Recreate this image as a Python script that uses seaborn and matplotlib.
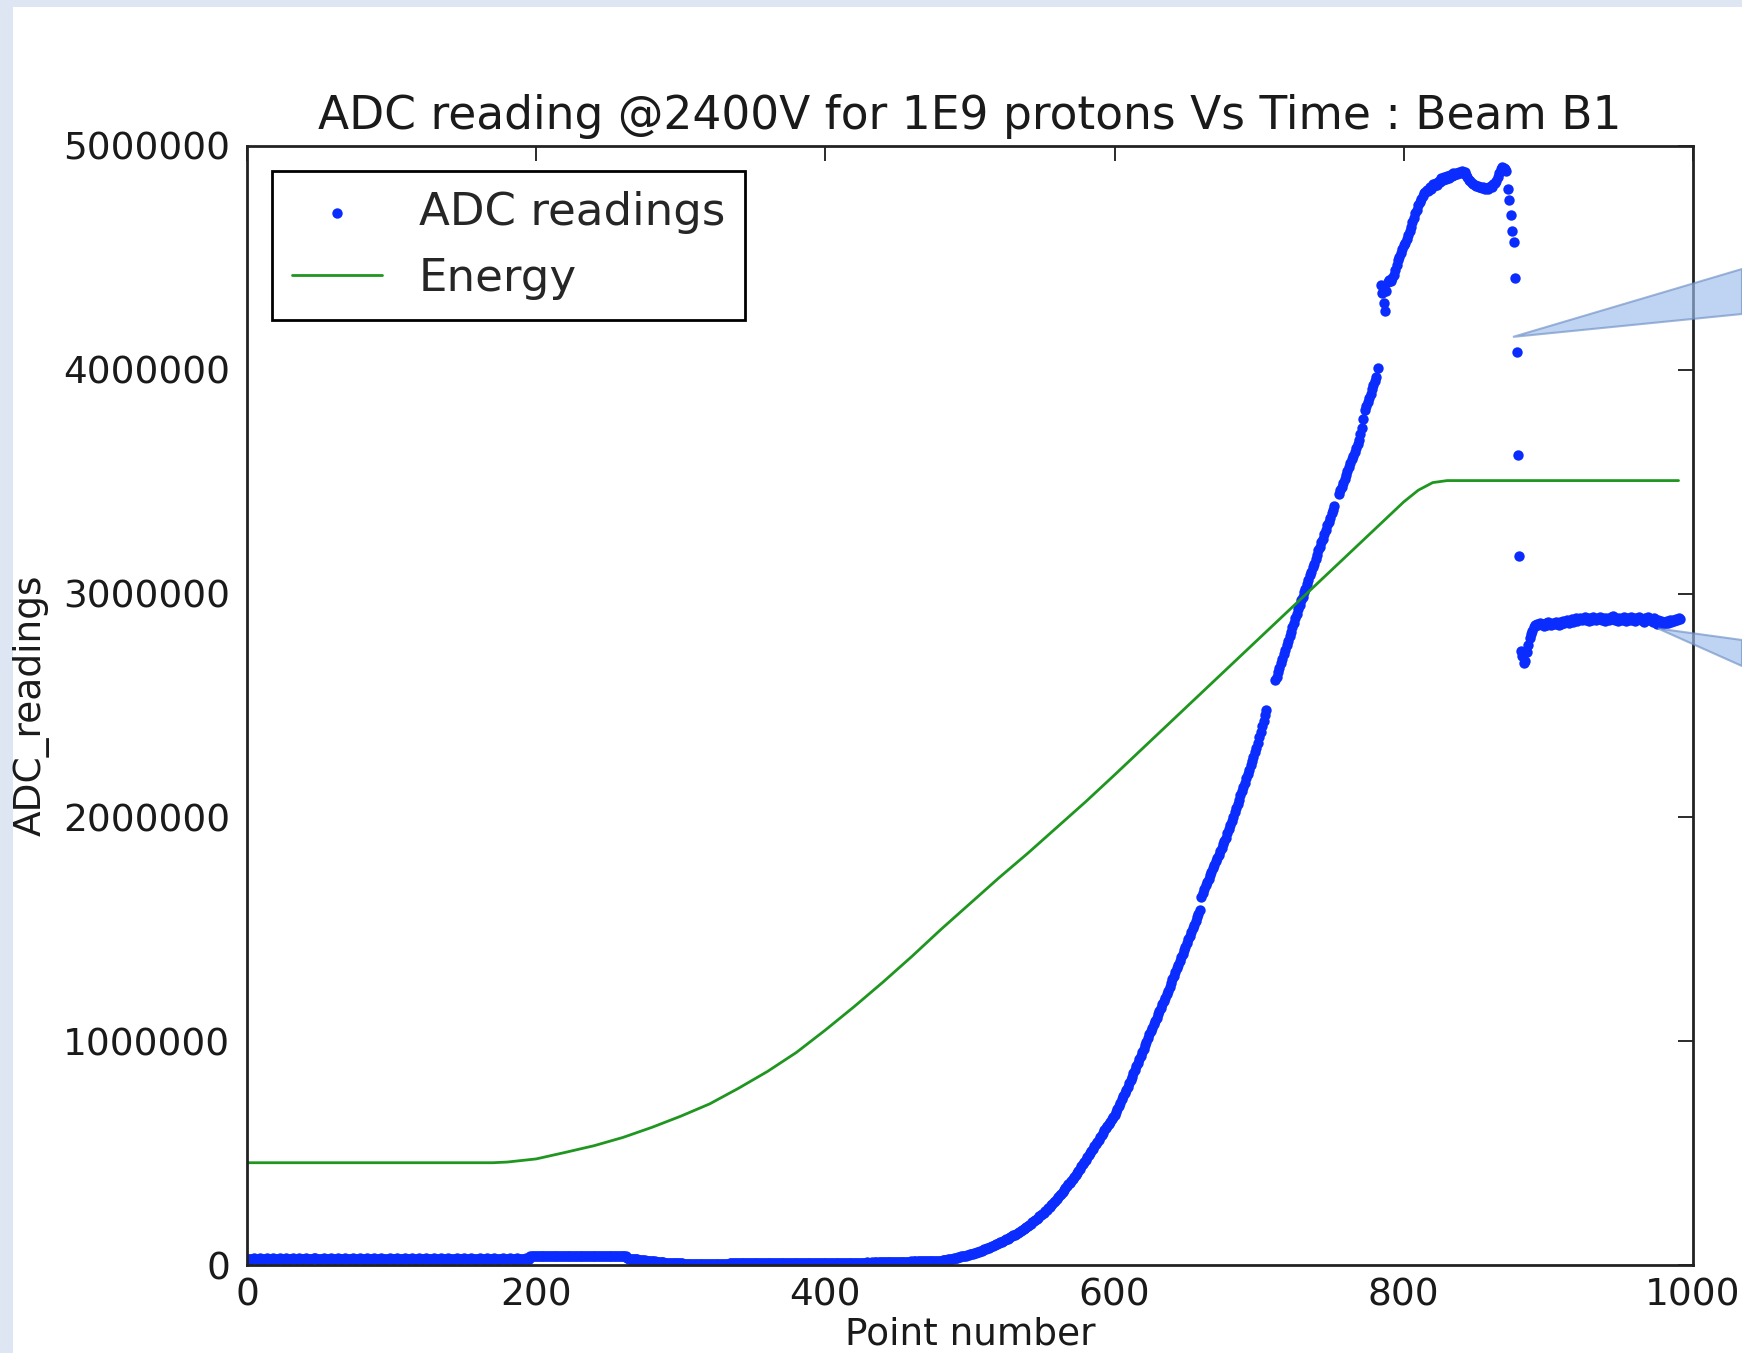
import numpy as np
import pandas as pd
import matplotlib
matplotlib.use("Agg")
import matplotlib.pyplot as plt
from matplotlib.patches import Polygon, Rectangle
from matplotlib.ticker import ScalarFormatter
import seaborn as sns

nan = np.nan

# ADC readings (thousands of counts), one value per point number.
# Each block starts at the point number in ADC_BLOCKS; nan = no reading.
ADC_FLAT_A = [
    28, 27, 29, 26, 28, 31, 27, 25, 28, 30, 27, 26, 29, 27, 31, 28, 26, 27, 30, 28, 25, 27, 29, 31, 27,
    26, 28, 30, 27, 25, 29, 27, 30, 28, 26, 27, 31, 28, 27, 25, 29, 30, 27, 26, 28, 27, 30, 32, 27, 26,
    28, 27, 25, 30, 28, 27, 26, 29, 31, 27, 28, 26, 27, 30, 28, 25, 27, 29, 30, 27, 26, 28, 27, 31, 28,
    27, 26, 28, 30, 27, 25, 29, 27, 30, 28, 26, 27, 29, 32, 27, 28, 26, 27, 30, 28, 27, 25, 28, 27, 30,
    28, 27, 26, 29, 31, 27, 28, 26, 27, 30, 28, 25, 27, 29, 30, 27, 26, 28, 27, 31, 28, 27, 26, 29, 30,
    27, 25, 28, 27, 30, 28, 26, 27, 29, 32, 27, 28, 26, 27, 30, 28, 27, 25, 29, 27, 30, 28, 26, 27, 28,
    31, 27, 28, 26, 27, 30, 28, 27, 25, 29, 27, 30, 28, 26, 27, 29, 31, 27, 28, 26, 27, 30, 28, 27, 26,
    28, 27, 30, 28, 26, 27, 29, 31, 27, 28, 26, 27, 30, 28, 27, 25, 29, 27, 30, 28, 27,
]
ADC_FLAT_B = [
    40, 41, 39, 40, 42, 40, 41, 39, 40, 41, 42, 40, 39, 41, 40, 42, 41, 40, 39, 40, 41, 42, 40, 41, 39,
    40, 41, 40, 42, 41, 39, 40, 41, 40, 42, 40, 41, 39, 40, 41, 42, 40, 41, 40, 39, 41, 40, 42, 41, 40,
    41, 39, 40, 41, 42, 40, 41, 40, 39, 41, 40, 42, 41, 40, 41, 40, 39,
]
ADC_DIP = [
    30, 29, 28, 28, 27, 26, 26, 25, 24, 23, 23, 22, 21, 20, 19, 19, 18, 17, 16, 16, 15, 14, 14, 13, 12,
    12, 11, 11, 10, 10, 9, 9, 8, 8, 8, 7, 7, 7,
    7, 6, 6, 6, 5, 5, 6, 5, 5, 4, 5, 5, 4, 4, 5, 4, 4, 3, 4, 4,
    3, 4, 3, 4, 4, 5, 4, 5, 5, 6, 5, 6, 6, 7, 7, 8, 7, 8, 8, 9,
]
ADC_FLAT_C = [
    9, 10, 9, 10, 10, 9, 10, 11, 10, 10, 9, 10, 11, 10, 10, 11, 10, 9, 10, 11, 10, 10, 11, 10, 9,
    10, 11, 10, 10, 11, 10, 9, 10, 11, 10, 11, 10, 10, 9, 10, 11, 10, 10, 11, 10, 9, 10, 11, 10, 10,
    11, 10, 9, 10, 11, 10, 10, 11, 10, 9, 10, 11, 10, 11, 10, 10, 11, 10, 9, 10, 11, 10, 10, 11, 10,
    10, 11, 10, 11, 10, 10, 11, 11, 10, 11, 11, 10, 11, 12, 11, 11, 12, 11, 12, 12, 11, 12, 12, 13, 12,
    12, 13, 13, 12, 13, 13, 14, 13, 14, 14, 13, 14, 15, 14, 15, 15, 14, 15, 16, 15, 16, 16, 15, 16, 17,
    16, 17, 17, 16, 17, 18, 17, 18, 18, 19, 18, 19, 19, 20,
]
ADC_RISE_A = [
    20, 21, 22, 23, 24, 25, 27, 28, 29, 31, 32, 33, 35, 36, 38, 39, 41, 42, 44, 45,
    47, 49, 51, 53, 55, 57, 59, 61, 64, 67,
    70, 72, 75, 78, 81, 83, 86, 89, 92, 95, 98, 101, 104, 107, 110, 114, 117, 121, 124, 128, 132, 136, 140,
    144, 148, 152, 157, 161, 166, 170, 175, 180, 185, 190, 195, 200, 206, 211, 217, 222, 228, 234, 240, 247, 253, 260,
    267, 274, 281, 288, 296, 303, 311, 319, 327, 335, 343, 351, 360, 368, 377, 386, 395, 404, 413, 422, 431, 441, 450,
    460, 469, 481, 490, 499, 511, 520, 531, 540, 551, 560, 572, 581, 590, 602, 611, 621, 632, 641, 652, 661, 671,
    684, 698, 712, 726, 741, 755, 769, 783, 797, 812, 826, 841, 856,
    872, 888, 903, 919, 935, 951, 967, 983, 998, 1014, 1030,
    1045, 1060, 1075, 1090, 1105, 1120, 1135, 1150, 1165, 1180, 1195, 1210,
    1226, 1243, 1259, 1276, 1292, 1308, 1325, 1341, 1358, 1374, 1390,
    1406, 1423, 1439, 1456, 1472, 1488, 1505, 1521, 1538, 1554, 1570,
    1586, 1645, 1662, 1680,
    1696, 1711, 1726, 1742, 1757, 1772, 1788, 1803, 1818, 1834, 1849, 1864, 1880, 1895, 1910,
    1929, 1948, 1966, 1985, 2004, 2023, 2041, 2060, 2079, 2098, 2116, 2135,
    2154, 2174, 2193, 2213, 2232, 2252, 2271, 2291, 2310,
    2334, 2358, 2383, 2407, 2431, 2456, 2480,
    nan, nan, nan, nan, nan,
    2612, 2628, 2651, 2669, 2692, 2708, 2731, 2748, 2771, 2789, 2812, 2829, 2851, 2868, 2892, 2909, 2931, 2950,
    2970, 2985, 3008, 3022, 3045, 3060, 3082, 3097, 3119, 3134, 3156, 3171, 3193, 3208, 3231, 3245, 3268,
    3282, 3305, 3320, 3340,
    3358, 3375, 3392, nan, nan,
    3445, 3462, 3478, 3495, 3512, 3530, 3547, 3565, 3582, 3600, 3617, 3634, 3651, 3668, 3685, 3712, 3740,
    3780, 3820, 3840, 3858, 3876, 3893, 3912, 3932, 3951, 3970, 4010,
]
ADC_TOP = [
    4380, 4345, 4300, 4262, 4350, 4392, 4401, 4398, 4412, 4425, 4448, 4470, 4490, 4505, 4520, 4541,
    4556, 4568, 4585, 4602, 4620, 4640, 4662, 4680, 4700, 4712, 4735, 4750, 4762, 4775, 4788, 4796,
    4805, 4798, 4815, 4810, 4828, 4820, 4835, 4826, 4842, 4838, 4855, 4846, 4860, 4852, 4868, 4858,
    4872, 4865, 4878, 4870, 4880, 4874, 4885, 4878, 4888, 4880, 4885, 4872, 4862, 4850, 4842, 4835,
    4830, 4826, 4820, 4822, 4815, 4818, 4812, 4816, 4810, 4814, 4808, 4815, 4820, 4818, 4828, 4835,
    4842, 4860, 4880, 4898, 4905, 4900, 4895, 4890,
]
ADC_DROP = [
    4810, 4760, 4690, 4620, 4570, 4410, 4080, 3620, 3170, 2745,
    2720, 2690, 2700, 2740, 2770, 2800, 2820, 2835, 2850, 2860, 2865,
]
ADC_TAIL = [
    2858, 2870, 2862, 2866, 2855, 2868, 2860, 2872, 2864, 2858, 2869, 2862, 2874, 2866, 2860, 2871, 2865,
    2878, 2869, 2874, 2882, 2870, 2878, 2886, 2875,
    2884, 2890, 2878, 2886, 2893, 2880, 2888, 2895, 2882, 2889, 2878, 2891, 2884, 2896, 2886, 2880, 2892,
    2885, 2897, 2883, 2890, 2878, 2893, 2886, 2881,
    2894, 2887, 2899, 2884, 2891, 2878, 2893, 2886, 2880, 2895, 2888, 2876, 2890, 2884, 2896, 2881, 2889,
    2877, 2892, 2885, 2897, 2883, 2888, 2875, 2891,
    2884, 2894, 2880, 2887, 2873, 2889, 2878, 2866, 2882, 2870, 2876, 2864, 2872, 2868, 2878, 2870, 2880,
    2874, 2884, 2878, 2888, 2882, 2890, 2886,
]
ADC_BLOCKS = [(0, ADC_FLAT_A), (196, ADC_FLAT_B), (263, ADC_DIP), (341, ADC_FLAT_C),
              (480, ADC_RISE_A), (784, ADC_TOP), (872, ADC_DROP), (893, ADC_TAIL)]

# Energy curve (same axis units, thousands)
ENERGY_POINT = [0, 20, 40, 60, 80, 100, 120, 140, 160, 170, 180, 200, 220, 240, 260, 280, 300,
                320, 340, 360, 380, 400, 420, 440, 460, 480, 500, 520, 540, 560, 580, 600, 620,
                640, 660, 680, 700, 720, 740, 760, 780, 800, 810, 820, 830, 850, 900, 950, 990]
ENERGY_K = [457, 457, 457, 457, 457, 457, 457, 457, 457, 457, 460, 474, 503, 533, 570, 615, 665,
            720, 790, 865, 950, 1050, 1155, 1265, 1380, 1500, 1615, 1730, 1840, 1955, 2070, 2190, 2312,
            2434, 2556, 2678, 2800, 2922, 3044, 3166, 3288, 3410, 3462, 3496, 3505, 3505, 3505, 3505, 3505]

X_TICKS = [0, 200, 400, 600, 800, 1000]
Y_TICKS = [0, 1000000, 2000000, 3000000, 4000000, 5000000]

BLUE = "#0b2cff"
GREEN = "#1f961f"

frames = []
for start, vals in ADC_BLOCKS:
    frames.append(pd.DataFrame({"point": np.arange(start, start + len(vals)),
                                "adc": np.array(vals, dtype=float) * 1000}))
adc_df = pd.concat(frames, ignore_index=True).dropna()
energy_df = pd.DataFrame({"point": ENERGY_POINT, "energy": np.array(ENERGY_K) * 1000})

sns.set_theme(style="white")
plt.rcParams["font.family"] = ["DejaVu Sans"]

fig = plt.figure(figsize=(17.42, 13.53), dpi=100)
fig.patch.set_facecolor("#dde6f2")
# white slide area
fig.patches.append(Rectangle((13 / 1742, 0), 1, 1 - 7 / 1353, transform=fig.transFigure,
                             facecolor="white", edgecolor="none", zorder=-5))

ax = fig.add_axes([247 / 1742, 1 - 1265 / 1353, (1693 - 247) / 1742, (1265 - 146) / 1353])
ax.set_zorder(1)
ax.set_facecolor("white")

sns.scatterplot(data=adc_df, x="point", y="adc", ax=ax, color=BLUE, s=56, marker="o",
                linewidth=0, label="ADC readings", zorder=2)
sns.lineplot(data=energy_df, x="point", y="energy", ax=ax, color=GREEN, linewidth=2.0,
             label="Energy", estimator=None, sort=False, zorder=2)

ax.set_xlim(0, 1000)
ax.set_ylim(0, 5000000)
ax.set_xticks(X_TICKS)
ax.set_yticks(Y_TICKS)
fmt = ScalarFormatter(useOffset=False)
fmt.set_scientific(False)
ax.yaxis.set_major_formatter(fmt)

ax.tick_params(direction="in", length=11, width=1.3, top=True, right=True,
               labelsize=27, colors="#1a1a1a", pad=9)
ax.tick_params(axis="y", pad=12)
for sp in ax.spines.values():
    sp.set_linewidth(2.0)
    sp.set_color("#222222")
    sp.set_zorder(3)

ax.set_title("ADC reading @2400V for 1E9 protons Vs Time : Beam B1", fontsize=32.8, pad=12,
             color="#1a1a1a")
ax.set_xlabel("Point number", fontsize=27, labelpad=2, color="#1a1a1a")
ax.set_ylabel("ADC_readings", fontsize=27, labelpad=10, color="#1a1a1a")

leg = ax.legend(loc="upper left", scatterpoints=1, fontsize=32.5, frameon=True, fancybox=False,
                framealpha=1, edgecolor="black", borderaxespad=0.55, borderpad=0.45,
                handlelength=2.0, labelspacing=0.5, handletextpad=0.8)
leg.get_frame().set_linewidth(2.0)

# callout pointers coming in from the right edge of the slide
fig.canvas.draw()
callouts = [((875.5, 4147000), (1.0, 1 - 269 / 1353), (1.0, 1 - 314 / 1353)),
            ((975.8, 2844000), (1.0, 1 - 640 / 1353), (1.0, 1 - 666 / 1353))]
for tip, b1, b2 in callouts:
    tip_fig = fig.transFigure.inverted().transform(ax.transData.transform(tip))
    fig.patches.append(Polygon([tip_fig, b1, b2], closed=True, transform=fig.transFigure,
                               facecolor="#9dbcec", edgecolor="#6d90c6", alpha=0.65,
                               linewidth=1.5, zorder=5))

fig.savefig("out.png", dpi=100, facecolor=fig.get_facecolor())
